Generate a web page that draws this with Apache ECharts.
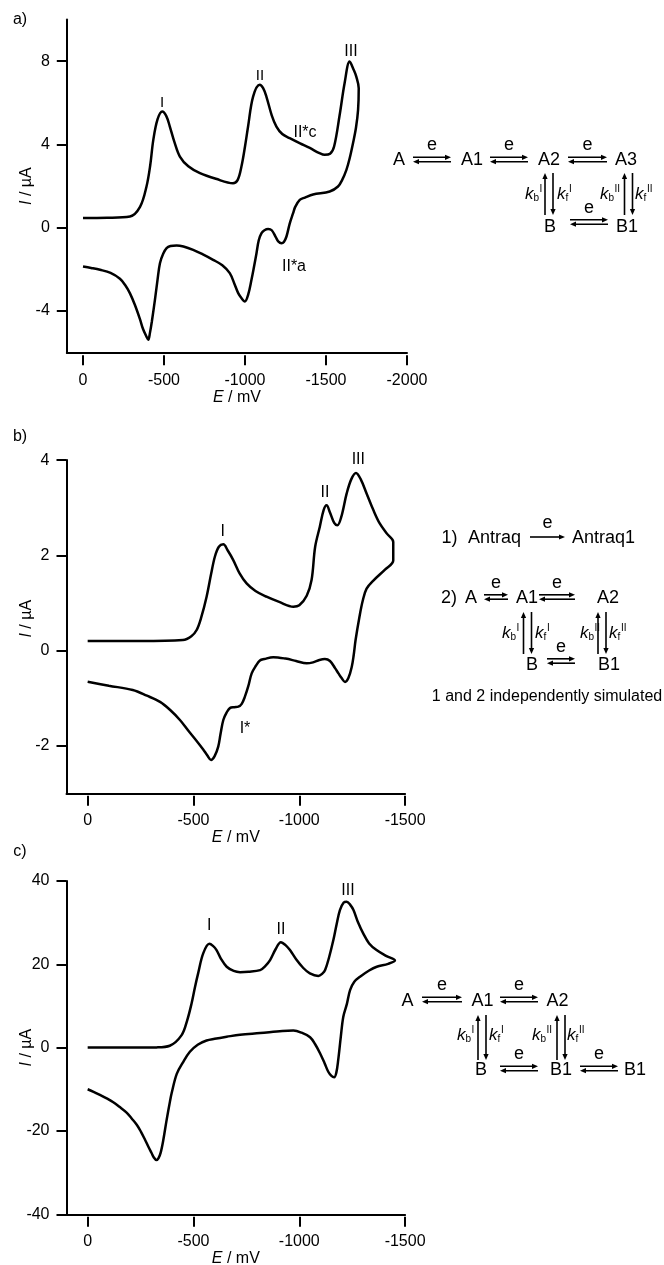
<!DOCTYPE html>
<html><head><meta charset="utf-8">
<script src="https://cdn.jsdelivr.net/npm/echarts@6.0.0/dist/echarts.min.js"></script>
<style>html,body{margin:0;padding:0;background:#fff}#c{width:664px;height:1265px}</style>
</head><body><div id="c"></div>
<script>
// ---- Panel a data (E / mV, I / uA) ----
const aFwdE = [0, -150, -290, -352, -392, -415, -434, -460, -489, -515, -536, -565, -598, -650, -722, -820, -926, -955, -978, -1000, -1019, -1050, -1091, -1112, -1132, -1165, -1194, -1230, -1276, -1340, -1400, -1460, -1492, -1525, -1550, -1584, -1615, -1646, -1670, -1687, -1702];
const aFwdI = [0.47, 0.48, 0.54, 1.0, 1.98, 3.0, 4.22, 5.2, 5.58, 5.35, 4.86, 4.1, 3.42, 2.95, 2.62, 2.35, 2.14, 2.3, 2.94, 3.9, 4.86, 6.3, 6.87, 6.7, 6.3, 5.4, 4.86, 4.5, 4.3, 4.05, 3.83, 3.58, 3.5, 3.55, 3.9, 5.4, 6.95, 7.98, 7.6, 7.26, 6.7];
const aRevE = [-1702, -1698, -1685, -1667, -1645, -1626, -1600, -1574, -1523, -1420, -1370, -1338, -1310, -1297, -1276, -1256, -1240, -1225, -1205, -1190, -1165, -1143, -1120, -1102, -1085, -1071, -1055, -1040, -1020, -999, -980, -958, -935, -906, -860, -803, -740, -680, -620, -578, -540, -516, -495, -475, -460, -444, -425, -413, -403, -390, -370, -352, -320, -290, -260, -228, -170, -105, -50, 0];
const aRevI = [6.7, 5.66, 4.8, 4.07, 3.3, 2.78, 2.3, 1.98, 1.74, 1.6, 1.45, 1.34, 1.0, 0.7, 0.2, -0.42, -0.68, -0.74, -0.65, -0.45, -0.12, -0.06, -0.12, -0.26, -0.6, -1.22, -1.9, -2.5, -3.2, -3.54, -3.4, -3.14, -2.7, -2.18, -1.8, -1.54, -1.28, -1.06, -0.9, -0.85, -0.88, -0.98, -1.25, -1.7, -2.5, -3.46, -4.5, -5.06, -5.38, -5.2, -4.85, -4.4, -3.7, -3.15, -2.75, -2.45, -2.17, -2.02, -1.93, -1.86];

// ---- Panel b data ----
const bFwdE = [0, -250, -450, -490, -515, -537, -562, -583, -601, -620, -641, -662, -688, -718, -751, -793, -845, -905, -972, -1000, -1035, -1058, -1075, -1097, -1115, -1129, -1145, -1165, -1180, -1198, -1224, -1246, -1268, -1290, -1318, -1350, -1380, -1415, -1444];
const bFwdI = [0.2, 0.2, 0.22, 0.3, 0.43, 0.7, 1.13, 1.6, 1.97, 2.18, 2.23, 2.1, 1.9, 1.62, 1.41, 1.25, 1.13, 1.02, 0.92, 0.95, 1.15, 1.48, 2.18, 2.6, 2.95, 3.05, 2.9, 2.68, 2.63, 2.8, 3.3, 3.6, 3.73, 3.6, 3.3, 2.95, 2.67, 2.45, 2.28];
const bRevE = [-1444, -1405, -1350, -1318, -1300, -1284, -1266, -1257, -1248, -1232, -1216, -1200, -1185, -1169, -1145, -1121, -1095, -1065, -1035, -985, -935, -877, -835, -814, -795, -775, -759, -743, -728, -712, -693, -672, -657, -641, -628, -617, -600, -583, -565, -546, -515, -475, -436, -390, -342, -280, -213, -100, 0];
const bRevI = [1.89, 1.7, 1.47, 1.3, 1.05, 0.7, 0.22, -0.1, -0.34, -0.58, -0.66, -0.58, -0.48, -0.37, -0.22, -0.18, -0.2, -0.25, -0.27, -0.22, -0.17, -0.14, -0.18, -0.21, -0.32, -0.48, -0.75, -0.97, -1.12, -1.18, -1.19, -1.21, -1.3, -1.46, -1.75, -2.02, -2.22, -2.3, -2.2, -2.08, -1.9, -1.68, -1.46, -1.25, -1.08, -0.95, -0.83, -0.74, -0.655];

// ---- Panel c data ----
const cFwdE = [0, -200, -325, -388, -444, -470, -491, -507, -522, -546, -575, -592, -609, -630, -657, -690, -720, -760, -815, -838, -862, -888, -913, -935, -956, -985, -1019, -1050, -1090, -1110, -1122, -1140, -1161, -1176, -1192, -1210, -1224, -1240, -1256, -1278, -1302, -1330, -1365, -1410, -1452];
const cFwdI = [0, 0, 0.05, 0.45, 3.0, 6.5, 10.6, 14.5, 17.8, 22.6, 24.9, 24.4, 23.4, 21.3, 19.4, 18.4, 18.1, 18.2, 18.6, 19.5, 21, 23.6, 25.3, 24.6, 23.4, 21.2, 19.1, 17.8, 17.2, 17.8, 18.6, 21.5, 25.8, 29.5, 33, 34.8, 35, 34.3, 33, 30, 27.4, 25, 23.4, 22, 20.9];
const cRevE = [-1452, -1420, -1366, -1330, -1287, -1260, -1240, -1225, -1208, -1196, -1184, -1175, -1165, -1152, -1137, -1120, -1098, -1075, -1051, -1010, -972, -920, -815, -720, -657, -600, -562, -520, -483, -452, -421, -397, -389, -373, -357, -345, -335, -325, -312, -302, -287, -271, -252, -232, -208, -184, -150, -121, -90, -58, -28, 0];
const cRevI = [20.9, 20.1, 19.4, 18.5, 17, 15.8, 13.8, 10.5, 7.4, 2.5, -2.95, -6.0, -7.1, -6.8, -5.8, -3.8, -1.35, 0.8, 2.5, 3.6, 4.1, 4.0, 3.5, 3.1, 2.6, 2.1, 1.7, 0.7, -1.0, -3.4, -6.3, -10.9, -12.9, -17.4, -22.3, -25.2, -26.5, -27.0, -26.3, -25.3, -23.8, -22.1, -20.2, -18.5, -17.0, -15.6, -14.2, -13.1, -12.2, -11.35, -10.6, -10];

// ---- Tick values ----
const xTicksA = [0, -500, -1000, -1500, -2000];
const xTicksBC = [0, -500, -1000, -1500];
const yTicksA = [-4, 0, 4, 8];
const yTicksB = [-2, 0, 2, 4];
const yTicksC = [-40, -20, 0, 20, 40];

const FF = '"Liberation Sans", Arial, Helvetica, sans-serif';
const zip = (e, i) => e.map((v, k) => [v, i[k]]);
function nameStyle(pad) {
  return {fontSize: 16, fontFamily: FF, color: '#000', padding: pad || 0,
    rich: {i: {fontStyle: 'italic', fontSize: 16, fontFamily: FF, color: '#000'}}};
}

function xAxes(grid, min, max, ticks) {
  return [
    {gridIndex: grid, type: 'value', min, max, inverse: true, position: 'bottom', offset: 2.5,
     axisLine: {show: false, onZero: false},
     axisTick: {show: true, length: 10, lineStyle: {color: '#000', width: 2}, customValues: ticks},
     axisLabel: {customValues: ticks, formatter: v => String(v), color: '#000', fontSize: 16, fontFamily: FF, margin: 17},
     splitLine: {show: false},
     name: '{i|E} / mV', nameLocation: 'middle', nameGap: 34, nameMoveOverlap: false, nameTextStyle: nameStyle()},
    {gridIndex: grid, type: 'value', min, max, inverse: true, position: 'bottom', offset: 0,
     axisLine: {show: true, onZero: false, lineStyle: {color: '#000', width: 2}},
     axisTick: {show: false}, axisLabel: {show: false}, splitLine: {show: false}}
  ];
}
function yAxis(grid, min, max, ticks, pad) {
  return {gridIndex: grid, type: 'value', min, max, position: 'left',
    axisLine: {show: true, onZero: false, lineStyle: {color: '#000', width: 2}},
    axisTick: {show: true, length: 10, lineStyle: {color: '#000', width: 2}, customValues: ticks},
    axisLabel: {customValues: ticks, formatter: v => String(v), color: '#000', fontSize: 16, fontFamily: FF, margin: 17},
    splitLine: {show: false},
    name: '{i|I} / µA', nameLocation: 'middle', nameGap: 32, nameRotate: 90, nameMoveOverlap: false, nameTextStyle: nameStyle(pad)};
}
function cv(xi, yi, fe, fi, re, ri) {
  return {type: 'line', xAxisIndex: xi, yAxisIndex: yi, data: zip(fe, fi).concat(zip(re, ri)),
    showSymbol: false, symbol: 'none', smooth: 0.35, lineStyle: {color: '#000', width: 2.5}, silent: true};
}

// ---- annotation helpers ----
const G = [];
function T(x, y, s, size, extra) {
  const st = Object.assign({text: s, font: size + 'px ' + FF, fill: '#000', align: 'center', verticalAlign: 'middle', textAlign: 'center', textVerticalAlign: 'middle'}, extra || {});
  G.push({type: 'text', x, y, silent: true, style: st});
}
function L(x1, y1, x2, y2) { G.push({type: 'line', silent: true, shape: {x1, y1, x2, y2}, style: {stroke: '#000', lineWidth: 1.6}}); }
function P(pts) { G.push({type: 'polygon', silent: true, shape: {points: pts}, style: {fill: '#000'}}); }
const H = 6, W = 2.6;
function headR(x, y) { P([[x, y], [x - H, y - W], [x - H, y + W]]); }
function headL(x, y) { P([[x, y], [x + H, y - W], [x + H, y + W]]); }
function headU(x, y) { P([[x, y], [x - W, y + H], [x + W, y + H]]); }
function headD(x, y) { P([[x, y], [x - W, y - H], [x + W, y - H]]); }
function eqH(x1, x2, y) {
  L(x1, y - 2.2, x2 - 4, y - 2.2); headR(x2, y - 2.2);
  L(x1 + 4, y + 2.2, x2, y + 2.2); headL(x1, y + 2.2);
  T((x1 + x2) / 2, y - 14, 'e', 18);
}
function arrR(x1, x2, y) { L(x1, y, x2 - 4, y); headR(x2, y); T((x1 + x2) / 2, y - 14, 'e', 18); }
function eqV(x, y1, y2) {
  L(x - 4, y1 + 4, x - 4, y2); headU(x - 4, y1);
  L(x + 4, y1, x + 4, y2 - 4); headD(x + 4, y2);
}
function kLab(x, y, sub, sup) {
  const left = {align: 'left', textAlign: 'left'};
  G.push({type: 'text', x, y, silent: true, style: Object.assign({text: 'k', font: 'italic 17px ' + FF, fill: '#000', verticalAlign: 'middle', textVerticalAlign: 'middle'}, left)});
  T(x + 8.5, y + 4.5, sub, 10, left);
  T(x + 8.5 + (sub === 'b' ? 6 : 3.5), y - 5, sup, 10, left);
}

// panel letters
T(20, 20, 'a)', 16); T(20, 437, 'b)', 16); T(20, 852, 'c)', 16);
// peak labels
T(162, 103, 'I', 15); T(260, 76, 'II', 15); T(351, 52, 'III', 16); T(305, 133, 'II*c', 16); T(294, 267, 'II*a', 16);
T(222.7, 531.7, 'I', 16); T(325, 493, 'II', 16); T(358.3, 459.3, 'III', 16); T(245, 729, 'I*', 16);
T(209.3, 926, 'I', 16); T(281, 930, 'II', 16); T(348, 891, 'III', 16);

// scheme a
T(399, 160, 'A', 18); eqH(413, 451, 159.5); T(472, 160, 'A1', 18); eqH(490, 528, 159.5);
T(549, 160, 'A2', 18); eqH(568, 607, 159.5); T(626, 160, 'A3', 18);
eqV(549, 173, 215); eqV(628.5, 173, 215);
kLab(525, 194, 'b', 'I'); kLab(557, 194, 'f', 'I'); kLab(600, 194, 'b', 'II'); kLab(635, 194, 'f', 'II');
T(550, 227, 'B', 18); eqH(570, 608, 222); T(627, 227, 'B1', 18);

// scheme b
T(449.5, 538, '1)', 18); T(468, 538, 'Antraq', 18, {align: 'left', textAlign: 'left'}); arrR(530, 565, 537);
T(572, 538, 'Antraq1', 18, {align: 'left', textAlign: 'left'});
T(449, 598, '2)', 18); T(471, 598, 'A', 18); eqH(484, 508, 597); T(527, 598, 'A1', 18); eqH(539, 575, 597); T(608, 598, 'A2', 18);
eqV(527.5, 612, 654); eqV(602, 612, 654);
kLab(502, 633, 'b', 'I'); kLab(535, 633, 'f', 'I'); kLab(580, 633, 'b', 'II'); kLab(609, 633, 'f', 'II');
T(532, 665, 'B', 18); eqH(547, 575, 661); T(609, 665, 'B1', 18);
T(547, 697, '1 and 2 independently simulated', 16);

// scheme c
T(407.5, 1001, 'A', 18); eqH(422, 462, 999.5); T(482.5, 1001, 'A1', 18); eqH(500, 538, 999.5); T(557.5, 1001, 'A2', 18);
eqV(482, 1015, 1060); eqV(561, 1015, 1060);
kLab(457, 1035, 'b', 'I'); kLab(489, 1035, 'f', 'I'); kLab(532, 1035, 'b', 'II'); kLab(567, 1035, 'f', 'II');
T(481, 1070, 'B', 18); eqH(500, 538, 1068.5); T(561, 1070, 'B1', 18); eqH(580, 618, 1068.5); T(635, 1070, 'B1', 18);

const chart = echarts.init(document.getElementById('c'), null, {renderer: 'canvas'});
chart.setOption({
  animation: false,
  backgroundColor: '#fff',
  grid: [
    {left: 66.8, top: 19.5, width: 340.2, height: 333.2, containLabel: false, outerBoundsMode: 'none'},
    {left: 66.5, top: 460.1, width: 338.6, height: 333.2, containLabel: false, outerBoundsMode: 'none'},
    {left: 66.5, top: 880.9, width: 338.6, height: 333.4, containLabel: false, outerBoundsMode: 'none'}
  ],
  xAxis: [].concat(xAxes(0, -2000, 100, xTicksA), xAxes(1, -1500, 100, xTicksBC), xAxes(2, -1500, 100, xTicksBC)),
  yAxis: [yAxis(0, -6, 10, yTicksA), yAxis(1, -3, 4, yTicksB, [0, 0, 0, 16]), yAxis(2, -40, 40, yTicksC)],
  series: [
    cv(0, 0, aFwdE, aFwdI, aRevE, aRevI),
    cv(2, 1, bFwdE, bFwdI, bRevE, bRevI),
    cv(4, 2, cFwdE, cFwdI, cRevE, cRevI)
  ],
  graphic: {elements: G}
});
</script></body></html>
